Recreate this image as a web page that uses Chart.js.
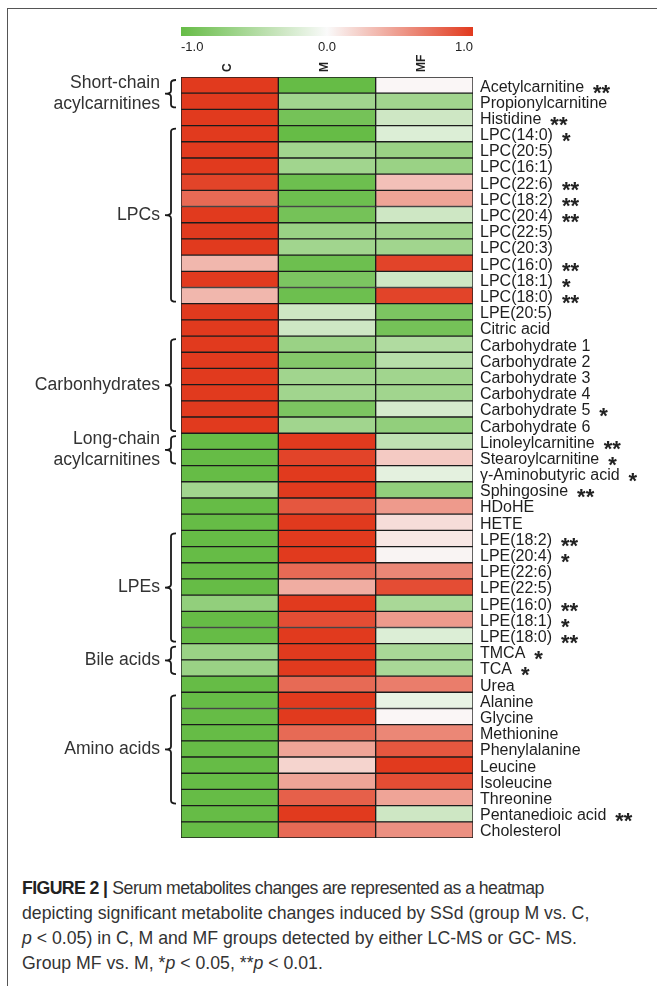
<!DOCTYPE html>
<html>
<head>
<meta charset="utf-8">
<script src="https://cdn.jsdelivr.net/npm/chart.js@4/dist/chart.umd.min.js"></script>
<style>
  html, body { margin: 0; padding: 0; background: #fff; }
  body { width: 657px; height: 986px; overflow: hidden; position: relative;
         font-family: 'Liberation Sans', Arial, sans-serif; }
  #frame { position: absolute; left: 7px; top: 8px; width: 720px; height: 1000px;
           border-left: 1.5px solid #555; border-top: 1.5px solid #555; }
  #wrap { position: absolute; left: 0; top: 0; width: 657px; height: 855px; }
  #caption { position: absolute; left: 22px; top: 876px; width: 630px;
             font-size: 17.7px; line-height: 25px; color: #333; white-space: nowrap; }
  #caption b { color: #222; letter-spacing: -0.6px; }
  #caption .tight { letter-spacing: -0.55px; }
</style>
</head>
<body>
<div id="frame"></div>
<div id="wrap"><canvas id="heatmap"></canvas></div>
<div id="caption"><b>FIGURE 2 |</b> <span class="tight">Serum metabolites changes are represented as a heatmap</span><br>depicting significant metabolite changes induced by SSd (group M vs. C,<br><i>p</i> &lt; 0.05) in C, M and MF groups detected by either LC-MS or GC- MS.<br>Group MF vs. M, *<i>p</i> &lt; 0.05, **<i>p</i> &lt; 0.01.</div>

<script>
// Metabolites, top to bottom
const metabolites = [
  'Acetylcarnitine', 'Propionylcarnitine', 'Histidine',
  'LPC(14:0)', 'LPC(20:5)', 'LPC(16:1)', 'LPC(22:6)', 'LPC(18:2)', 'LPC(20:4)',
  'LPC(22:5)', 'LPC(20:3)', 'LPC(16:0)', 'LPC(18:1)', 'LPC(18:0)',
  'LPE(20:5)', 'Citric acid',
  'Carbohydrate 1', 'Carbohydrate 2', 'Carbohydrate 3', 'Carbohydrate 4',
  'Carbohydrate 5', 'Carbohydrate 6',
  'Linoleylcarnitine', 'Stearoylcarnitine', 'γ-Aminobutyric acid', 'Sphingosine',
  'HDoHE', 'HETE',
  'LPE(18:2)', 'LPE(20:4)', 'LPE(22:6)', 'LPE(22:5)', 'LPE(16:0)', 'LPE(18:1)', 'LPE(18:0)',
  'TMCA', 'TCA', 'Urea',
  'Alanine', 'Glycine', 'Methionine', 'Phenylalanine', 'Leucine', 'Isoleucine', 'Threonine',
  'Pentanedioic acid', 'Cholesterol'
];

// Groups (columns)
const groupNames = ['C', 'M', 'MF'];

// Scaled relative level per metabolite (-1 … 1)
const valuesC = [
  1, 1, 1,
  1, 1, 1, 0.95, 0.75, 1, 1, 1, 0.35, 1, 0.35,
  1, 1,
  1, 1, 1, 1, 1, 1,
  -1, -1, -1, -0.6,
  -1, -1,
  -1, -1, -1, -1, -0.7, -1, -1,
  -0.65, -0.65, -1,
  -1, -1, -1, -1, -1, -1, -1,
  -1, -1
];
const valuesM = [
  -1, -0.6, -0.9,
  -1, -0.6, -0.6, -0.95, -0.95, -0.9, -0.65, -0.6, -0.95, -0.85, -0.95,
  -0.3, -0.3,
  -0.65, -0.8, -0.6, -0.6, -0.85, -0.6,
  1, 0.95, 1, 1,
  0.85, 1,
  1, 1, 0.75, 0.4, 1, 0.9, 1,
  1, 1, 0.75,
  1, 1, 0.75, 0.45, 0.2, 0.45, 0.8,
  1, 0.75
];
const valuesMF = [
  0.02, -0.6, -0.3,
  -0.2, -0.65, -0.65, 0.3, 0.45, -0.3, -0.6, -0.6, 0.95, -0.3, 0.95,
  -0.85, -0.9,
  -0.5, -0.45, -0.6, -0.6, -0.25, -0.7,
  -0.4, 0.25, -0.15, -0.7,
  0.5, 0.15,
  0.1, 0.03, 0.6, 0.9, -0.55, 0.5, -0.2,
  -0.55, -0.55, 0.65,
  -0.12, 0.02, 0.6, 0.85, 1, 0.9, 0.45,
  -0.3, 0.55
];

// Significance of MF vs. M
const significance = [
  '**', '', '**',
  '*', '', '', '**', '**', '**', '', '', '**', '*', '**',
  '', '',
  '', '', '', '', '*', '',
  '**', '*', '*', '**',
  '', '',
  '**', '*', '', '', '**', '*', '**',
  '*', '*', '',
  '', '', '', '', '', '', '',
  '**', ''
];

// Metabolite classes bracketed on the left
const classLabels = [
  ['Short-chain', 'acylcarnitines'], ['LPCs'], ['Carbonhydrates'],
  ['Long-chain', 'acylcarnitines'], ['LPEs'], ['Bile acids'], ['Amino acids']
];
const classFirst = ['Acetylcarnitine', 'LPC(14:0)', 'Carbohydrate 1', 'Linoleylcarnitine', 'LPE(18:2)', 'TMCA', 'Alanine'];
const classLast  = ['Propionylcarnitine', 'LPC(18:0)', 'Carbohydrate 6', 'Stearoylcarnitine', 'LPE(18:0)', 'TCA', 'Threonine'];

// Colour bar ticks
const colorbarTicks = [-1.0, 0.0, 1.0];

const FONT = "'Liberation Sans', Arial, sans-serif";
const GREEN = [102, 188, 70];
const WHITE = [250, 250, 250];
const RED = [225, 58, 30];
const LABEL_SHIFT = 2;

function heatColor(v) {
  const t = Math.min(1, Math.abs(v));
  const end = v < 0 ? GREEN : RED;
  const c = WHITE.map((w, k) => Math.round(w + (end[k] - w) * t));
  return `rgb(${c[0]},${c[1]},${c[2]})`;
}

const columnValues = [valuesC, valuesM, valuesMF];

const datasets = groupNames.map((g, gi) => ({
  label: g,
  data: metabolites.map(() => [gi, gi + 1]),
  backgroundColor: columnValues[gi].map(heatColor),
  borderColor: '#1c1c1c',
  borderWidth: 1,
  borderSkipped: false,
  barPercentage: 1,
  categoryPercentage: 1,
  grouped: false
}));

const decorations = {
  id: 'decorations',
  afterDraw(chart) {
    const { ctx, chartArea, scales: { x, y } } = chart;
    ctx.save();

    // colour bar
    const bx0 = x.getPixelForValue(0), bx1 = x.getPixelForValue(3);
    const grad = ctx.createLinearGradient(bx0, 0, bx1, 0);
    for (let i = 0; i <= 60; i++) {
      const t = i / 60;
      grad.addColorStop(t, heatColor(-1 + 2 * t));
    }
    ctx.fillStyle = grad;
    ctx.fillRect(bx0, 27, bx1 - bx0, 9);
    ctx.fillStyle = '#222';
    ctx.font = `13px ${FONT}`;
    ctx.textBaseline = 'middle';
    colorbarTicks.forEach((v, i) => {
      const px = bx0 + (v + 1) / 2 * (bx1 - bx0);
      ctx.textAlign = i === 0 ? 'left' : (i === colorbarTicks.length - 1 ? 'right' : 'center');
      ctx.fillText(v.toFixed(1), px, 47);
    });

    // significance stars after the row labels
    ctx.font = `16px ${FONT}`;
    const labelX = chartArea.right + 7;
    significance.forEach((s, i) => {
      if (!s) return;
      const w = ctx.measureText(metabolites[i]).width;
      const cy = y.getPixelForValue(i) + LABEL_SHIFT;
      ctx.save();
      ctx.font = `bold 22px ${FONT}`;
      ctx.textAlign = 'left';
      ctx.textBaseline = 'alphabetic';
      ctx.fillStyle = '#222';
      ctx.fillText(s, labelX + w + 9, cy + 12.5);
      ctx.restore();
    });

    // class brackets and names
    const half = (y.getPixelForValue(1) - y.getPixelForValue(0)) / 2;
    ctx.strokeStyle = '#1a1a1a';
    ctx.lineWidth = 1.8;
    ctx.fillStyle = '#333';
    ctx.font = `17.6px ${FONT}`;
    ctx.textAlign = 'right';
    ctx.textBaseline = 'middle';
    classLabels.forEach((lines, k) => {
      const top = y.getPixelForValue(metabolites.indexOf(classFirst[k])) - half + 3;
      const bot = y.getPixelForValue(metabolites.indexOf(classLast[k])) + half - 2;
      const mid = (top + bot) / 2;
      const xv = 171, xs = 176, xt = 165, r = 3;
      ctx.beginPath();
      ctx.moveTo(xs, top);
      ctx.quadraticCurveTo(xv, top, xv, top + r);
      ctx.lineTo(xv, mid - r);
      ctx.quadraticCurveTo(xv, mid, xt, mid);
      ctx.quadraticCurveTo(xv, mid, xv, mid + r);
      ctx.lineTo(xv, bot - r);
      ctx.quadraticCurveTo(xv, bot, xs, bot);
      ctx.stroke();
      const lh = 21;
      lines.forEach((txt, j) => {
        ctx.fillText(txt, 160, mid + (j - (lines.length - 1) / 2) * lh);
      });
    });
    ctx.restore();
  }
};

new Chart(document.getElementById('heatmap'), {
  type: 'bar',
  data: { labels: metabolites, datasets },
  options: {
    indexAxis: 'y',
    responsive: true,
    maintainAspectRatio: false,
    animation: false,
    layout: { padding: { left: 181, right: 0, top: 0, bottom: 0 } },
    plugins: { legend: { display: false }, tooltip: { enabled: false } },
    scales: {
      x: {
        type: 'linear', position: 'top', min: 0, max: 3,
        grid: { display: false, drawTicks: false },
        border: { display: false },
        afterBuildTicks: s => { s.ticks = groupNames.map((_, i) => ({ value: i + 0.5 })); },
        afterFit: s => { s.height = 77; },
        ticks: {
          autoSkip: false, minRotation: 90, maxRotation: 90, padding: 5, labelOffset: 12,
          font: { size: 12, weight: 'bold', family: FONT }, color: '#222',
          callback: (v, i) => groupNames[i]
        }
      },
      y: {
        type: 'category', position: 'right',
        grid: { display: false, drawTicks: false },
        border: { display: false },
        afterFit: s => { s.width = 184; s.paddingBottom = 17; },
        ticks: { autoSkip: false, padding: 7, labelOffset: LABEL_SHIFT,
                 font: { size: 16, family: FONT }, color: '#1e1e1e' }
      }
    }
  },
  plugins: [decorations]
});
</script>
</body>
</html>
